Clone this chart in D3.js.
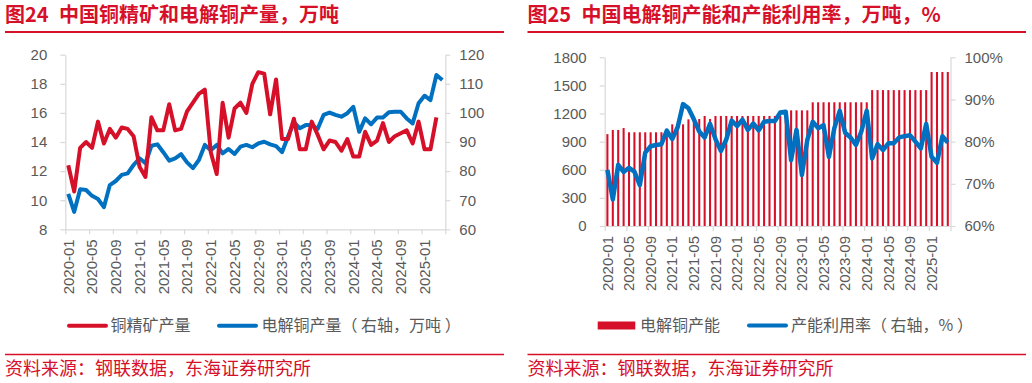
<!DOCTYPE html>
<html><head><meta charset="utf-8">
<script src="https://cdn.jsdelivr.net/npm/d3@7/dist/d3.min.js"></script>
<style>
html,body{margin:0;padding:0;background:#fff;}
svg{display:block;}
text{font-family:"Liberation Sans",Arial,"Noto Sans CJK SC",sans-serif;}
.cjk{font-family:"Noto Sans CJK SC","Liberation Sans",sans-serif;}
</style></head>
<body>
<svg id="c" width="1032" height="383"></svg>
<script>
// ---------- data ----------
const months = [];
for (let y = 2020; y <= 2025; y++) for (let m = 1; m <= 12; m++) {
  if (y === 2025 && m > 4) break;
  months.push(y + "-" + String(m).padStart(2, "0"));
}
const tickLabelMonths = ["2020-01","2020-05","2020-09","2021-01","2021-05","2021-09","2022-01","2022-05","2022-09","2023-01","2023-05","2023-09","2024-01","2024-05","2024-09","2025-01"];

// 图24: 铜精矿产量 (left axis, 万吨)
const oreOutput = [12.4,10.6,13.6,14.0,13.6,15.4,13.9,14.9,14.3,15.0,
  14.9,14.4,12.3,11.6,15.7,14.8,14.8,16.6,14.8,14.9,
  16.1,16.7,17.3,17.6,13.3,11.8,16.7,14.3,16.3,16.7,
  16.0,18.0,18.8,18.7,15.9,18.3,14.2,14.2,15.6,13.5,
  13.5,15.4,14.5,13.5,14.1,14.0,13.4,14.2,13.0,13.0,
  14.7,13.8,14.1,15.3,14.0,14.4,14.6,14.8,13.9,15.4,
  13.5,13.5,15.7,null];
// 图24: 电解铜产量 (right axis, 万吨)
const cathodeOutput = [72.2,66.0,73.8,73.5,71.5,70.4,67.6,75.2,76.6,78.7,
  79.2,82.1,84.4,82.7,88.7,89.2,86.5,83.6,84.4,85.8,
  83.0,81.0,83.8,89.0,87.2,89.0,86.1,87.6,85.9,88.4,
  89.0,88.2,89.5,90.1,89.2,88.6,86.5,91.8,96.8,94.7,
  95.8,95.8,94.5,99.3,100.1,99.3,98.7,99.9,102.1,93.5,
  98.1,96.1,98.4,98.4,100.2,100.4,100.4,98.1,96.4,103.3,
  105.9,104.4,113.0,111.3];
// 图25: 电解铜产能 (left axis, 万吨)
const capacity = [980,1025,1025,1045,1000,1000,1000,1000,1000,1000,
  1000,1000,1085,1085,1085,1138,1113,1142,1174,1142,
  1174,1174,1174,1174,1174,1174,1174,1174,1174,1174,
  1174,1174,1174,1174,1234,1234,1234,1234,1320,1320,
  1320,1320,1320,1320,1320,1320,1320,1320,1320,1450,
  1450,1450,1450,1450,1450,1450,1450,1450,1450,1450,
  1643,1643,1643,1643];
// 图25: 产能利用率 (right axis, %)
const utilization = [73.3,66.3,74.5,72.8,73.8,72.9,69.7,77.4,78.9,79.2,
  79.4,82.6,80.6,83.4,88.9,87.9,85.3,82.4,81.0,84.2,
  80.6,77.8,80.5,85.0,83.7,85.2,82.8,84.3,82.7,84.7,
  84.9,84.9,86.9,87.1,75.6,82.8,72.1,80.4,84.7,83.2,
  83.9,76.4,83.2,87.3,82.1,81.0,79.2,82.4,87.3,76.0,
  79.4,78.0,79.6,79.6,81.0,81.3,81.5,80.0,78.4,84.2,
  76.4,75.0,81.3,79.8];

const leftTicks1 = [8,10,12,14,16,18,20];
const rightTicks1 = [60,70,80,90,100,110,120];
const leftTicks2 = [0,300,600,900,1200,1500,1800];
const rightTicks2 = [60,70,80,90,100];

// ---------- style ----------
const RED = "#d7102a", BLUE = "#0070c0", AXIS = "#d9d9d9", LABEL = "#595959";
const svg = d3.select("#c");

function header(x0, x1, num, title) {
  svg.append("text").attr("class","cjk").attr("x", x0).attr("y", 22)
    .attr("fill", RED).attr("font-size", 20).attr("font-weight", "bold").text(num);
  svg.append("text").attr("class","cjk").attr("x", x0 + 54).attr("y", 22)
    .attr("fill", RED).attr("font-size", 20).attr("font-weight", "bold").text(title);
  svg.append("line").attr("x1", x0).attr("x2", x1).attr("y1", 32).attr("y2", 32)
    .attr("stroke", RED).attr("stroke-width", 2);
  svg.append("line").attr("x1", x0).attr("x2", x1).attr("y1", 354.5).attr("y2", 354.5)
    .attr("stroke", RED).attr("stroke-width", 1.5);
  svg.append("text").attr("class","cjk").attr("x", x0).attr("y", 375)
    .attr("fill", RED).attr("font-size", 18).text("资料来源：钢联数据，东海证券研究所");
}

function axes(g, xLin, xBand, yL, yR, lt, rt, fmtL, fmtR) {
  const styleAxis = sel => {
    sel.select(".domain").attr("stroke", AXIS).attr("stroke-width", 1.2);
    sel.selectAll(".tick line").attr("stroke", AXIS).attr("stroke-width", 1.2);
    sel.selectAll(".tick text").attr("fill", LABEL).attr("font-size", 15);
  };
  const [y0, y1] = yL.range();
  const [xa, xb] = xLin.range();
  // x-axis: tick marks at category boundaries every 4 months
  const xg = g.append("g").attr("transform", `translate(0,${y0})`)
    .call(d3.axisBottom(xLin).tickValues(d3.range(0, months.length + 1, 4)).tickFormat("").tickSize(5).tickSizeOuter(0));
  styleAxis(xg);
  g.append("g").selectAll("text").data(tickLabelMonths).join("text")
    .attr("transform", d => `translate(${xBand(d) + xBand.bandwidth()/2},${y0 + 10}) rotate(-90)`)
    .attr("text-anchor", "end").attr("dy", "0.35em")
    .attr("fill", LABEL).attr("font-size", 15).text(d => d);
  const lg = g.append("g").attr("transform", `translate(${xa},0)`)
    .call(d3.axisLeft(yL).tickValues(lt).tickFormat(fmtL).tickSize(5).tickPadding(13).tickSizeOuter(0));
  styleAxis(lg);
  const rg = g.append("g").attr("transform", `translate(${xb},0)`)
    .call(d3.axisRight(yR).tickValues(rt).tickFormat(fmtR).tickSize(5).tickPadding(9).tickSizeOuter(0));
  styleAxis(rg);
}

// ---------- chart 1 ----------
header(5, 504, "图24", "中国铜精矿和电解铜产量，万吨");
{
  const g = svg.append("g");
  const x0 = 65.3, x1 = 445.3, yT = 54.7, yB = 229.3;
  const xLin = d3.scaleLinear().domain([0, months.length]).range([x0, x1]);
  const xBand = d3.scaleBand().domain(months).range([x0, x1]).padding(0);
  const yL = d3.scaleLinear().domain([8, 20]).range([yB, yT]);
  const yR = d3.scaleLinear().domain([60, 120]).range([yB, yT]);
  axes(g, xLin, xBand, yL, yR, leftTicks1, rightTicks1, d3.format("d"), d3.format("d"));
  const cx = (d, i) => xBand(months[i]) + xBand.bandwidth()/2;
  g.append("path").datum(cathodeOutput)
    .attr("fill","none").attr("stroke",BLUE).attr("stroke-width",4).attr("stroke-linejoin","round")
    .attr("d", d3.line().x(cx).y(d => yR(d)));
  g.append("path").datum(oreOutput)
    .attr("fill","none").attr("stroke",RED).attr("stroke-width",4).attr("stroke-linejoin","round")
    .attr("d", d3.line().defined(d => d != null).x(cx).y(d => yL(d)));
  // legend
  const ly = 325.7;
  g.append("line").attr("x1",69).attr("x2",106).attr("y1",ly).attr("y2",ly)
    .attr("stroke",RED).attr("stroke-width",4).attr("stroke-linecap","round");
  g.append("text").attr("class","cjk").attr("x",110.5).attr("y",ly).attr("dy","0.36em")
    .attr("fill",LABEL).attr("font-size",16).text("铜精矿产量");
  g.append("line").attr("x1",219).attr("x2",256).attr("y1",ly).attr("y2",ly)
    .attr("stroke",BLUE).attr("stroke-width",4).attr("stroke-linecap","round");
  g.append("text").attr("class","cjk").attr("x",261.5).attr("y",ly).attr("dy","0.36em")
    .attr("fill",LABEL).attr("font-size",16).attr("xml:space","preserve").text("电解铜产量（ 右轴，万吨 ）");
}

// ---------- chart 2 ----------
header(527.5, 1026, "图25", "中国电解铜产能和产能利用率，万吨，%");
{
  const g = svg.append("g");
  const x0 = 604.7, x1 = 950.5, yT = 57.3, yB = 226;
  const xLin = d3.scaleLinear().domain([0, months.length]).range([x0, x1]);
  const xBand = d3.scaleBand().domain(months).range([x0, x1]).paddingInner(0.62).paddingOuter(0.31);
  const xCat = d3.scaleBand().domain(months).range([x0, x1]).padding(0);
  const yL = d3.scaleLinear().domain([0, 1800]).range([yB, yT]);
  const yR = d3.scaleLinear().domain([60, 100]).range([yB, yT]);
  // bars first
  g.append("g").selectAll("rect").data(capacity).join("rect")
    .attr("x", (d, i) => xBand(months[i])).attr("width", xBand.bandwidth())
    .attr("y", d => yL(d)).attr("height", d => yB - yL(d)).attr("fill", RED);
  axes(g, xLin, xCat, yL, yR, leftTicks2, rightTicks2, d3.format("d"), d => d + "%");
  g.append("path").datum(utilization)
    .attr("fill","none").attr("stroke",BLUE).attr("stroke-width",4.5).attr("stroke-linejoin","round")
    .attr("d", d3.line().x((d, i) => xCat(months[i]) + xCat.bandwidth()/2).y(d => yR(d)));
  // legend
  const ly = 325.5;
  g.append("rect").attr("x",597.7).attr("y",ly-4).attr("width",37.6).attr("height",8).attr("fill",RED);
  g.append("text").attr("class","cjk").attr("x",640).attr("y",ly).attr("dy","0.36em")
    .attr("fill",LABEL).attr("font-size",16).text("电解铜产能");
  g.append("line").attr("x1",749).attr("x2",786).attr("y1",ly).attr("y2",ly)
    .attr("stroke",BLUE).attr("stroke-width",4).attr("stroke-linecap","round");
  g.append("text").attr("class","cjk").attr("x",791).attr("y",ly).attr("dy","0.36em")
    .attr("fill",LABEL).attr("font-size",16).attr("xml:space","preserve").text("产能利用率（ 右轴，% ）");
}
</script>
</body></html>
